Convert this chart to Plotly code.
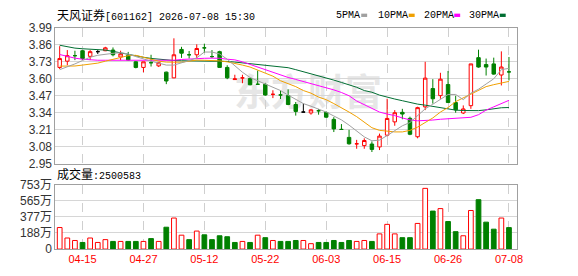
import plotly.graph_objects as go

# ---------------- data ----------------
dates = ["04-10","04-13","04-14","04-15","04-16","04-17","04-20","04-21","04-22","04-23",
         "04-24","04-27","04-28","04-29","04-30","05-06","05-07","05-08","05-11","05-12",
         "05-13","05-14","05-15","05-18","05-19","05-20","05-21","05-22","05-25","05-26",
         "05-27","05-28","05-29","06-01","06-02","06-03","06-04","06-05","06-08","06-09",
         "06-10","06-11","06-12","06-15","06-16","06-17","06-18","06-22","06-23","06-24",
         "06-25","06-26","06-29","06-30","07-01","07-02","07-03","07-06","07-07","07-08"]

opens = [3.687,3.735,3.777,3.815,3.772,3.808,3.815,3.820,3.767,3.779,
         3.730,3.687,3.723,3.699,3.651,3.607,3.825,3.784,3.784,3.837,
         3.770,3.808,3.687,3.594,3.607,3.602,3.558,3.558,3.481,3.476,
         3.471,3.403,3.345,3.338,3.355,3.342,3.289,3.212,3.151,3.102,
         3.088,3.100,3.078,3.168,3.270,3.343,3.297,3.156,3.385,3.525,
         3.471,3.556,3.418,3.338,3.394,3.762,3.709,3.714,3.629,3.653]
highs = [3.850,3.820,3.815,3.820,3.820,3.820,3.845,3.840,3.815,3.806,
         3.735,3.730,3.784,3.728,3.655,3.910,3.845,3.813,3.864,3.869,
         3.820,3.815,3.704,3.631,3.631,3.607,3.663,3.565,3.512,3.510,
         3.519,3.422,3.410,3.369,3.369,3.350,3.306,3.253,3.209,3.132,
         3.144,3.120,3.180,3.447,3.360,3.370,3.310,3.386,3.730,3.597,
         3.646,3.660,3.470,3.396,3.714,3.823,3.755,3.762,3.810,3.767]
lows = [3.675,3.704,3.743,3.745,3.743,3.790,3.812,3.772,3.743,3.738,
        3.680,3.650,3.694,3.690,3.559,3.605,3.760,3.755,3.760,3.800,
        3.760,3.687,3.597,3.594,3.566,3.550,3.558,3.470,3.452,3.445,
        3.398,3.318,3.345,3.325,3.325,3.300,3.192,3.212,3.095,3.064,
        3.064,3.039,3.054,3.160,3.240,3.290,3.168,3.144,3.360,3.410,
        3.447,3.418,3.340,3.330,3.370,3.685,3.625,3.631,3.549,3.587]
closes = [3.755,3.777,3.777,3.755,3.808,3.808,3.837,3.784,3.791,3.743,
          3.687,3.730,3.723,3.723,3.583,3.784,3.796,3.784,3.832,3.837,
          3.770,3.687,3.607,3.599,3.607,3.554,3.558,3.476,3.481,3.476,
          3.403,3.350,3.345,3.362,3.355,3.306,3.216,3.212,3.102,3.102,
          3.127,3.059,3.161,3.296,3.340,3.330,3.175,3.379,3.605,3.447,
          3.597,3.418,3.362,3.369,3.714,3.690,3.690,3.636,3.690,3.653]
candle_kind = ["r","r","g","g","r","k","r","g","r","g",
               "g","r","g","r","g","r","g","g","r","g",
               "g","g","g","r","r","g","g","g","r","g",
               "g","g","k","r","g","g","g","g","g","r",
               "r","g","r","r","r","g","g","r","r","g",
               "r","g","g","r","r","g","g","g","r","g"]

ma5 = [3.670,3.690,3.714,3.740,3.765,3.780,3.790,3.795,3.800,3.790,
       3.770,3.750,3.735,3.720,3.705,3.705,3.720,3.740,3.760,3.805,
       3.805,3.790,3.750,3.700,3.650,3.610,3.585,3.560,3.535,3.510,
       3.475,3.440,3.410,3.390,3.370,3.345,3.315,3.285,3.245,3.200,
       3.155,3.125,3.130,3.165,3.200,3.240,3.265,3.320,3.370,3.405,
       3.440,3.480,3.480,3.440,3.490,3.520,3.560,3.600,3.670,3.680]
ma10 = [3.697,3.697,3.698,3.705,3.712,3.720,3.735,3.750,3.765,3.777,
        3.780,3.765,3.745,3.735,3.728,3.726,3.727,3.735,3.743,3.742,
        3.740,3.737,3.730,3.720,3.705,3.690,3.665,3.640,3.620,3.585,
        3.565,3.540,3.510,3.490,3.460,3.440,3.410,3.380,3.345,3.310,
        3.270,3.225,3.205,3.198,3.193,3.193,3.205,3.230,3.265,3.300,
        3.345,3.380,3.425,3.455,3.480,3.510,3.540,3.555,3.565,3.580]
ma20 = [3.786,3.770,3.758,3.750,3.745,3.742,3.742,3.742,3.741,3.740,
        3.740,3.740,3.740,3.740,3.740,3.742,3.748,3.752,3.755,3.757,
        3.758,3.757,3.750,3.745,3.730,3.710,3.690,3.670,3.650,3.628,
        3.610,3.595,3.580,3.565,3.550,3.535,3.515,3.495,3.470,3.430,
        3.400,3.370,3.345,3.330,3.318,3.300,3.285,3.278,3.280,3.284,
        3.290,3.293,3.296,3.298,3.305,3.325,3.360,3.385,3.410,3.435]
ma30 = [3.857,3.845,3.835,3.830,3.826,3.822,3.820,3.810,3.798,3.788,
        3.776,3.765,3.756,3.750,3.745,3.740,3.738,3.737,3.737,3.737,
        3.737,3.736,3.733,3.728,3.722,3.718,3.712,3.705,3.700,3.692,
        3.685,3.670,3.655,3.640,3.625,3.607,3.590,3.572,3.555,3.535,
        3.510,3.497,3.475,3.458,3.445,3.432,3.418,3.406,3.398,3.388,
        3.380,3.368,3.360,3.357,3.356,3.356,3.362,3.372,3.378,3.380]

volumes = [2510000,1290000,1000000,770000,1290000,770000,1100000,890000,890000,890000,
           890000,890000,1220000,890000,2550000,3620000,1620000,1100000,2100000,1660000,
           1100000,1550000,1440000,770000,890000,770000,1620000,1330000,1000000,890000,
           890000,1000000,1000000,630000,770000,770000,1000000,770000,1000000,890000,
           1000000,890000,1770000,2880000,1770000,1330000,1330000,2990000,7080000,4430000,
           4720000,3210000,2030000,1550000,4500000,5760000,3140000,2320000,3620000,2500583]
vol_kind = ["r","r","r","g","r","r","r","g","r","g",
            "g","r","g","r","g","r","r","g","r","g",
            "g","g","g","g","r","g","r","g","r","g",
            "g","g","r","r","g","g","g","g","g","r",
            "r","g","r","r","r","g","g","r","r","g",
            "r","g","g","r","r","g","g","g","r","g"]

price_ticks = [2.95,3.08,3.21,3.34,3.47,3.60,3.73,3.86,3.99]
price_tick_text = ["2.95","3.08","3.21","3.34","3.47","3.60","3.73","3.86","3.99"]
vol_ticks = [0,1880000,3770000,5650000,7530000]
vol_tick_text = ["0","188万","377万","565万","753万"]
date_ticks = ["04-15","04-27","05-12","05-22","06-03","06-15","06-26","07-08"]
title_name = "天风证券"
title_rest = "[601162] 2026-07-08 15:30"
vol_title = "成交量"
ma_names = ["5PMA","10PMA","20PMA","30PMA"]

# ---------------- style ----------------
RED = "#ff0000"
GREEN = "#008000"
MA_COLORS = ["#a0a0a0", "#f0a000", "#ff00ff", "#006e32"]
W, H = 578, 276
XL, XR = 56, 522
TOP_Y0, TOP_Y1 = 22, 165
BOT_Y0, BOT_Y1 = 187, 255

def px_x(x):
    return x / W

def px_y(y):
    return 1 - y / H

fig = go.Figure()

styles = {"r": (RED, "white"), "g": (GREEN, GREEN), "k": ("#000000", "#000000")}
for kind, (lc, fc) in styles.items():
    idx = [i for i, k in enumerate(candle_kind) if k == kind]
    fig.add_trace(go.Candlestick(
        x=[dates[i] for i in idx],
        open=[opens[i] for i in idx], high=[highs[i] for i in idx],
        low=[lows[i] for i in idx], close=[closes[i] for i in idx],
        increasing=dict(line=dict(color=lc, width=1), fillcolor=fc),
        decreasing=dict(line=dict(color=lc, width=1), fillcolor=fc),
        whiskerwidth=0, showlegend=False, xaxis="x", yaxis="y"))

for vals, col in zip([ma30, ma20, ma10, ma5], MA_COLORS[::-1]):
    fig.add_trace(go.Scatter(x=dates, y=vals, mode="lines",
                             line=dict(color=col, width=1), showlegend=False,
                             xaxis="x", yaxis="y"))

for kind in ["r", "g"]:
    idx = [i for i, k in enumerate(vol_kind) if k == kind]
    fig.add_trace(go.Bar(
        x=[dates[i] for i in idx], y=[volumes[i] for i in idx],
        width=0.62,
        marker=dict(color="white" if kind == "r" else GREEN,
                    line=dict(color=RED if kind == "r" else GREEN, width=1)),
        showlegend=False, xaxis="x2", yaxis="y2"))

xr = [-0.56, 60.0]
common_x = dict(type="category", categoryorder="array", categoryarray=dates,
                range=xr, tickmode="array", tickvals=date_ticks,
                showgrid=True, gridcolor="#cfcfcf", griddash="dash", gridwidth=1,
                showline=True, mirror=True, linecolor="#a0a0a0", linewidth=1,
                ticks="", zeroline=False, fixedrange=True,
                rangeslider=dict(visible=False),
                domain=[px_x(XL), px_x(XR)])

fig.update_layout(
    width=W, height=H, margin=dict(l=0, r=0, t=0, b=0),
    paper_bgcolor="white", plot_bgcolor="white",
    boxgap=0.35, barmode="overlay", showlegend=False,
    font=dict(family="Liberation Sans, Noto Sans CJK SC", size=12, color="#333333"),
    xaxis=dict(common_x, anchor="y", showticklabels=False),
    xaxis2=dict(common_x, anchor="y2", showticklabels=True,
                tickfont=dict(family="Liberation Sans", size=11, color=RED)),
    yaxis=dict(domain=[px_y(TOP_Y1), px_y(TOP_Y0)], range=[2.95, 3.99],
               tickmode="array", tickvals=price_ticks, ticktext=price_tick_text,
               showgrid=True, gridcolor="#d6d6d6", gridwidth=1, zeroline=False,
               showline=True, mirror=True, linecolor="#a0a0a0", ticks="",
               tickfont=dict(size=12, color="#333333"), anchor="x"),
    yaxis2=dict(domain=[px_y(BOT_Y1), px_y(BOT_Y0)], range=[0, 7530000],
                tickmode="array", tickvals=vol_ticks, ticktext=vol_tick_text,
                showgrid=True, gridcolor="#d6d6d6", gridwidth=1, zeroline=False,
                showline=True, mirror=True, linecolor="#a0a0a0", ticks="",
                tickfont=dict(family="Liberation Sans, Noto Sans CJK SC", size=12, color="#333333"),
                anchor="x2"),
)

# watermark (below traces)
fig.add_shape(type="rect", xref="paper", yref="paper",
              x0=px_x(205), x1=px_x(392), y0=px_y(113), y1=px_y(75),
              line=dict(width=0), fillcolor="rgba(0,0,0,0)", layer="below",
              label=dict(text="<b>东方财富</b>", font=dict(size=37, color="#e6e6e6",
                         family="Noto Sans CJK SC"),
                         textposition="middle right"))

mono = "Liberation Mono, Noto Sans CJK SC"
fig.add_annotation(x=px_x(56), y=px_y(9), xref="paper", yref="paper",
                   xanchor="left", yanchor="middle", showarrow=False,
                   text="<span style='font-size:12px'>" + title_name + "</span>" + title_rest,
                   font=dict(family=mono, size=10, color="#000000"))
fig.add_annotation(x=px_x(56), y=px_y(177), xref="paper", yref="paper",
                   xanchor="left", yanchor="middle", showarrow=False,
                   text="<span style='font-size:12px'>" + vol_title + "</span>:" + str(volumes[-1]),
                   font=dict(family=mono, size=10, color="#000000"))

legend_x = [338, 380, 426, 472]
for name, col, lx in zip(ma_names, MA_COLORS, legend_x):
    fig.add_annotation(x=px_x(lx), y=px_y(9), xref="paper", yref="paper",
                       xanchor="left", yanchor="middle", showarrow=False,
                       text=name, font=dict(family="Liberation Mono", size=10, color="#000000"))
    sx = lx + len(name) * 6 + 3
    fig.add_shape(type="rect", xref="paper", yref="paper",
                  x0=px_x(sx), x1=px_x(sx + 6), y0=px_y(10.5), y1=px_y(7),
                  line=dict(width=0), fillcolor=col)

fig.write_html("out.html")
